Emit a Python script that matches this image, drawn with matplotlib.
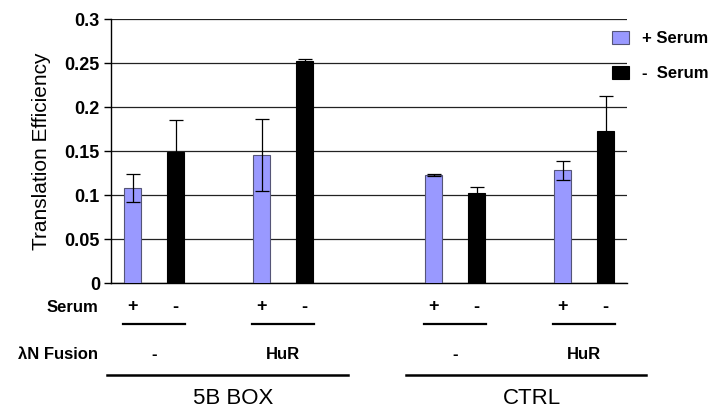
import matplotlib
matplotlib.use("Agg")
import matplotlib.pyplot as plt
import matplotlib.transforms as mtransforms

plt.rcParams['font.family'] = ['Liberation Sans', 'DejaVu Sans']

# Data
plus_serum = [0.108, 0.145, 0.123, 0.128]
plus_err = [0.016, 0.041, 0.001, 0.0105]
minus_serum = [0.149, 0.252, 0.102, 0.173]
minus_err = [0.036, 0.002, 0.007, 0.040]

# slot positions (Excel-like spacing with empty slots between groups)
plus_pos = [0, 3, 7, 10]
minus_pos = [1, 4, 8, 11]

fusion_labels = ['-', 'HuR', '-', 'HuR']
construct_labels = ['5B BOX', 'CTRL']
construct_spans = [(-0.6, 5.0), (6.35, 11.95)]
yticks = [0, 0.05, 0.1, 0.15, 0.2, 0.25, 0.3]

W, H = 710, 415
fig = plt.figure(figsize=(W / 100, H / 100), dpi=100)
ax = fig.add_axes([111 / W, 1 - 283 / H, (627 - 111) / W, (283 - 19) / H])

ax.bar(plus_pos, plus_serum, width=0.4, color='#9999FF', edgecolor='#555577',
       linewidth=0.8, label='+ Serum', zorder=3)
ax.bar(minus_pos, minus_serum, width=0.4, color='black', edgecolor='black',
       linewidth=0.8, label='-  Serum', zorder=3)
ax.errorbar(plus_pos, plus_serum, yerr=plus_err, fmt='none', ecolor='black',
            elinewidth=0.9, capsize=5, capthick=0.9, zorder=4)
ax.errorbar(minus_pos, minus_serum, yerr=minus_err, fmt='none', ecolor='black',
            elinewidth=0.9, capsize=5, capthick=0.9, zorder=2)

ax.set_xlim(-0.5, 11.5)
ax.set_ylim(0, 0.3)
ax.set_yticks(yticks)
ax.set_yticklabels(['0', '0.05', '0.1', '0.15', '0.2', '0.25', '0.3'],
                   fontsize=13, fontweight='bold')
ax.set_xticks([])
ax.yaxis.grid(True, color='#222222', linewidth=0.9, zorder=0)
ax.set_axisbelow(True)
for s in ['top', 'right']:
    ax.spines[s].set_visible(False)
ax.spines['left'].set_linewidth(1.0)
ax.spines['bottom'].set_linewidth(1.0)
ax.tick_params(axis='y', direction='out', length=5, width=1, pad=3)
ax.set_ylabel('Translation Efficiency', fontsize=15, fontweight='medium',
              labelpad=10)

leg = ax.legend(loc='upper left', bbox_to_anchor=(612 / W, 1 - 31 / H),
                bbox_transform=fig.transFigure, frameon=False, borderpad=0,
                borderaxespad=0, handlelength=1.0, handleheight=0.8,
                handletextpad=0.8, labelspacing=1.2,
                prop={'size': 12, 'weight': 'bold'})

# annotation rows below the axes
tr = mtransforms.blended_transform_factory(ax.transData, fig.transFigure)


def fy(px):
    return 1 - px / H


fig.text(98 / W, fy(307), 'Serum', ha='right', va='center',
         fontsize=12, fontweight='bold')
fig.text(98 / W, fy(354), '\u03bbN Fusion', ha='right', va='center',
         fontsize=12, fontweight='bold')

for p, m, lab in zip(plus_pos, minus_pos, fusion_labels):
    ax.text(p, fy(307), '+', transform=tr, ha='center', va='center',
            fontsize=13, fontweight='bold')
    ax.text(m, fy(307), '-', transform=tr, ha='center', va='center',
            fontsize=13, fontweight='bold')
    ax.plot([p - 0.23, m + 0.23], [fy(324), fy(324)], transform=tr,
            color='black', linewidth=1.6, clip_on=False)
    ax.text((p + m) / 2, fy(354), lab, transform=tr, ha='center', va='center',
            fontsize=12, fontweight='bold')

for (a, b), lab in zip(construct_spans, construct_labels):
    ax.plot([a, b], [fy(375), fy(375)], transform=tr, color='black',
            linewidth=1.8, clip_on=False)
    ax.text((a + b) / 2 + 0.15, fy(398), lab, transform=tr, ha='center',
            va='center', fontsize=16)

fig.savefig('out.png', dpi=100)
